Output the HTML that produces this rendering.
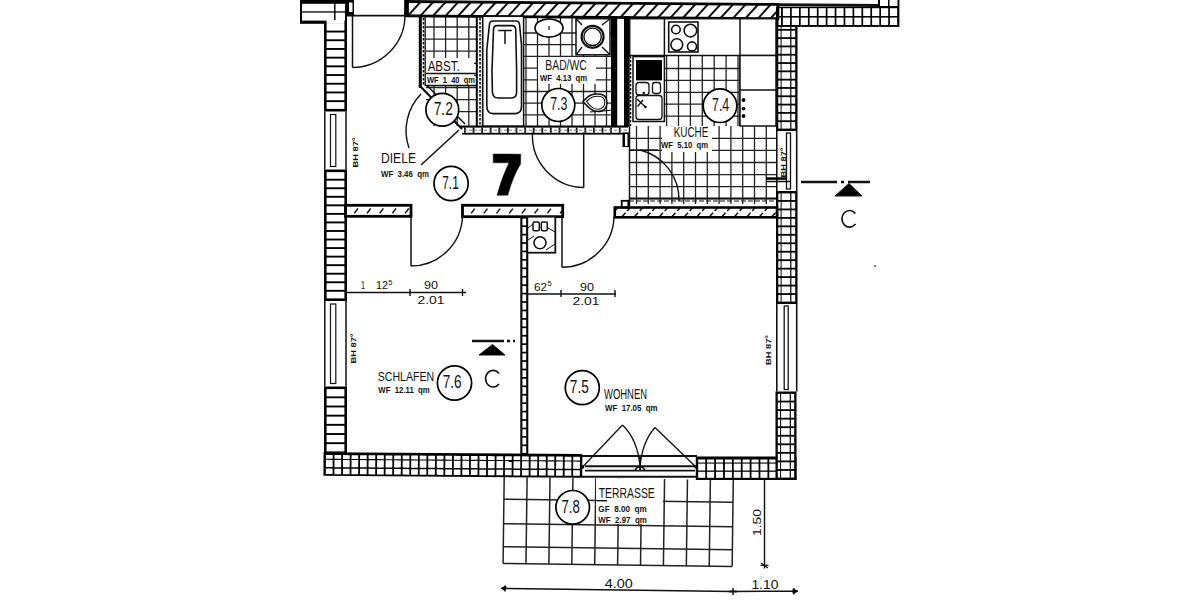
<!DOCTYPE html>
<html><head><meta charset="utf-8"><style>
html,body{margin:0;padding:0;background:#fff;width:1200px;height:600px;overflow:hidden}
svg{display:block}
text{font-family:"Liberation Sans",sans-serif;fill:#111;white-space:pre}
</style></head><body>
<svg width="1200" height="600" viewBox="0 0 1200 600">
<rect width="1200" height="600" fill="#fff"/>
<line x1="434" y1="16" x2="434" y2="126" stroke="#222" stroke-width="1.3"/>
<line x1="445.6" y1="16" x2="445.6" y2="126" stroke="#222" stroke-width="1.3"/>
<line x1="457.2" y1="16" x2="457.2" y2="126" stroke="#222" stroke-width="1.3"/>
<line x1="468.8" y1="16" x2="468.8" y2="126" stroke="#222" stroke-width="1.3"/>
<line x1="426" y1="27" x2="476" y2="27" stroke="#222" stroke-width="1.3"/>
<line x1="426" y1="39.1" x2="476" y2="39.1" stroke="#222" stroke-width="1.3"/>
<line x1="426" y1="51.2" x2="476" y2="51.2" stroke="#222" stroke-width="1.3"/>
<line x1="426" y1="63.3" x2="476" y2="63.3" stroke="#222" stroke-width="1.3"/>
<line x1="426" y1="75.4" x2="476" y2="75.4" stroke="#222" stroke-width="1.3"/>
<line x1="426" y1="87.5" x2="476" y2="87.5" stroke="#222" stroke-width="1.3"/>
<line x1="426" y1="99.6" x2="476" y2="99.6" stroke="#222" stroke-width="1.3"/>
<line x1="426" y1="111.7" x2="476" y2="111.7" stroke="#222" stroke-width="1.3"/>
<line x1="526" y1="16" x2="526" y2="126" stroke="#222" stroke-width="1.3"/>
<line x1="537.5" y1="16" x2="537.5" y2="126" stroke="#222" stroke-width="1.3"/>
<line x1="549" y1="16" x2="549" y2="126" stroke="#222" stroke-width="1.3"/>
<line x1="560.5" y1="16" x2="560.5" y2="126" stroke="#222" stroke-width="1.3"/>
<line x1="572" y1="16" x2="572" y2="126" stroke="#222" stroke-width="1.3"/>
<line x1="583.5" y1="16" x2="583.5" y2="126" stroke="#222" stroke-width="1.3"/>
<line x1="595" y1="16" x2="595" y2="126" stroke="#222" stroke-width="1.3"/>
<line x1="606.5" y1="16" x2="606.5" y2="126" stroke="#222" stroke-width="1.3"/>
<line x1="524" y1="33" x2="611" y2="33" stroke="#222" stroke-width="1.3"/>
<line x1="524" y1="44.7" x2="611" y2="44.7" stroke="#222" stroke-width="1.3"/>
<line x1="524" y1="56.4" x2="611" y2="56.4" stroke="#222" stroke-width="1.3"/>
<line x1="524" y1="68.1" x2="611" y2="68.1" stroke="#222" stroke-width="1.3"/>
<line x1="524" y1="79.8" x2="611" y2="79.8" stroke="#222" stroke-width="1.3"/>
<line x1="524" y1="91.5" x2="611" y2="91.5" stroke="#222" stroke-width="1.3"/>
<line x1="524" y1="103.2" x2="611" y2="103.2" stroke="#222" stroke-width="1.3"/>
<line x1="524" y1="114.9" x2="611" y2="114.9" stroke="#222" stroke-width="1.3"/>
<line x1="666.6" y1="55" x2="666.6" y2="126" stroke="#222" stroke-width="1.3"/>
<line x1="678.5" y1="55" x2="678.5" y2="126" stroke="#222" stroke-width="1.3"/>
<line x1="690.4" y1="55" x2="690.4" y2="126" stroke="#222" stroke-width="1.3"/>
<line x1="702.3" y1="55" x2="702.3" y2="126" stroke="#222" stroke-width="1.3"/>
<line x1="714.2" y1="55" x2="714.2" y2="126" stroke="#222" stroke-width="1.3"/>
<line x1="726.1" y1="55" x2="726.1" y2="126" stroke="#222" stroke-width="1.3"/>
<line x1="738" y1="55" x2="738" y2="126" stroke="#222" stroke-width="1.3"/>
<line x1="664" y1="68.5" x2="740" y2="68.5" stroke="#222" stroke-width="1.3"/>
<line x1="664" y1="80.4" x2="740" y2="80.4" stroke="#222" stroke-width="1.3"/>
<line x1="664" y1="92.3" x2="740" y2="92.3" stroke="#222" stroke-width="1.3"/>
<line x1="664" y1="104.2" x2="740" y2="104.2" stroke="#222" stroke-width="1.3"/>
<line x1="664" y1="116.1" x2="740" y2="116.1" stroke="#222" stroke-width="1.3"/>
<line x1="636.5" y1="126" x2="636.5" y2="204" stroke="#222" stroke-width="1.3"/>
<line x1="648.3" y1="126" x2="648.3" y2="204" stroke="#222" stroke-width="1.3"/>
<line x1="660.1" y1="126" x2="660.1" y2="204" stroke="#222" stroke-width="1.3"/>
<line x1="671.9" y1="126" x2="671.9" y2="204" stroke="#222" stroke-width="1.3"/>
<line x1="683.7" y1="126" x2="683.7" y2="204" stroke="#222" stroke-width="1.3"/>
<line x1="695.5" y1="126" x2="695.5" y2="204" stroke="#222" stroke-width="1.3"/>
<line x1="707.3" y1="126" x2="707.3" y2="204" stroke="#222" stroke-width="1.3"/>
<line x1="719.1" y1="126" x2="719.1" y2="204" stroke="#222" stroke-width="1.3"/>
<line x1="730.9" y1="126" x2="730.9" y2="204" stroke="#222" stroke-width="1.3"/>
<line x1="742.7" y1="126" x2="742.7" y2="204" stroke="#222" stroke-width="1.3"/>
<line x1="754.5" y1="126" x2="754.5" y2="204" stroke="#222" stroke-width="1.3"/>
<line x1="766.3" y1="126" x2="766.3" y2="204" stroke="#222" stroke-width="1.3"/>
<line x1="629" y1="138.3" x2="776" y2="138.3" stroke="#222" stroke-width="1.3"/>
<line x1="629" y1="150.4" x2="776" y2="150.4" stroke="#222" stroke-width="1.3"/>
<line x1="629" y1="162.5" x2="776" y2="162.5" stroke="#222" stroke-width="1.3"/>
<line x1="629" y1="174.6" x2="776" y2="174.6" stroke="#222" stroke-width="1.3"/>
<line x1="629" y1="186.7" x2="776" y2="186.7" stroke="#222" stroke-width="1.3"/>
<line x1="629" y1="198.8" x2="776" y2="198.8" stroke="#222" stroke-width="1.3"/>
<g transform="rotate(0.75 504 477)">
<line x1="504.2" y1="477" x2="504.2" y2="563.5" stroke="#222" stroke-width="1.5"/>
<line x1="527.11" y1="477" x2="527.11" y2="563.5" stroke="#222" stroke-width="1.5"/>
<line x1="550.02" y1="477" x2="550.02" y2="563.5" stroke="#222" stroke-width="1.5"/>
<line x1="572.93" y1="477" x2="572.93" y2="563.5" stroke="#222" stroke-width="1.5"/>
<line x1="595.84" y1="477" x2="595.84" y2="563.5" stroke="#222" stroke-width="1.5"/>
<line x1="618.75" y1="477" x2="618.75" y2="563.5" stroke="#222" stroke-width="1.5"/>
<line x1="641.66" y1="477" x2="641.66" y2="563.5" stroke="#222" stroke-width="1.5"/>
<line x1="664.57" y1="477" x2="664.57" y2="563.5" stroke="#222" stroke-width="1.5"/>
<line x1="687.48" y1="477" x2="687.48" y2="563.5" stroke="#222" stroke-width="1.5"/>
<line x1="710.39" y1="477" x2="710.39" y2="563.5" stroke="#222" stroke-width="1.5"/>
<line x1="733.3" y1="477" x2="733.3" y2="563.5" stroke="#222" stroke-width="1.5"/>
<line x1="504.2" y1="499.2" x2="733.3" y2="499.2" stroke="#222" stroke-width="1.5"/>
<line x1="504.2" y1="523.7" x2="733.3" y2="523.7" stroke="#222" stroke-width="1.5"/>
<line x1="504.2" y1="546.7" x2="733.3" y2="546.7" stroke="#222" stroke-width="1.5"/>
<line x1="504.2" y1="563.5" x2="733.3" y2="563.5" stroke="#222" stroke-width="1.5"/>
</g>
<rect x="300" y="0" width="47" height="23.8" fill="#000"/>
<rect x="302" y="3.8" width="32" height="7.5" fill="#fff"/>
<rect x="302" y="12.6" width="32" height="8" fill="#fff"/>
<rect x="335.5" y="3.8" width="9.5" height="7.5" fill="#fff"/>
<rect x="335.5" y="12.6" width="9.5" height="8" fill="#fff"/>
<rect x="347" y="0" width="7" height="15.6" fill="#000"/>
<rect x="349" y="2.5" width="3.5" height="9.5" fill="#fff"/>
<rect x="324" y="21.2" width="23" height="90.3" fill="#000"/>
<rect x="326.6" y="23.8" width="17.8" height="6.8" fill="#fff"/>
<rect x="326.6" y="32.5" width="17.8" height="6.8" fill="#fff"/>
<rect x="326.6" y="41.2" width="17.8" height="6.8" fill="#fff"/>
<rect x="326.6" y="49.9" width="17.8" height="6.8" fill="#fff"/>
<rect x="326.6" y="58.6" width="17.8" height="6.8" fill="#fff"/>
<rect x="326.6" y="67.3" width="17.8" height="6.8" fill="#fff"/>
<rect x="326.6" y="76" width="17.8" height="6.8" fill="#fff"/>
<rect x="326.6" y="84.7" width="17.8" height="6.8" fill="#fff"/>
<rect x="326.6" y="93.4" width="17.8" height="6.8" fill="#fff"/>
<rect x="326.6" y="102.1" width="17.8" height="6.8" fill="#fff"/>
<rect x="326.6" y="20" width="17.8" height="3.9" fill="#fff"/>
<rect x="324" y="169.5" width="23" height="131.5" fill="#000"/>
<rect x="326.6" y="172.1" width="17.8" height="6.65" fill="#fff"/>
<rect x="326.6" y="180.65" width="17.8" height="6.65" fill="#fff"/>
<rect x="326.6" y="189.19" width="17.8" height="6.65" fill="#fff"/>
<rect x="326.6" y="197.74" width="17.8" height="6.65" fill="#fff"/>
<rect x="326.6" y="206.29" width="17.8" height="6.65" fill="#fff"/>
<rect x="326.6" y="214.83" width="17.8" height="6.65" fill="#fff"/>
<rect x="326.6" y="223.38" width="17.8" height="6.65" fill="#fff"/>
<rect x="326.6" y="231.93" width="17.8" height="6.65" fill="#fff"/>
<rect x="326.6" y="240.47" width="17.8" height="6.65" fill="#fff"/>
<rect x="326.6" y="249.02" width="17.8" height="6.65" fill="#fff"/>
<rect x="326.6" y="257.57" width="17.8" height="6.65" fill="#fff"/>
<rect x="326.6" y="266.11" width="17.8" height="6.65" fill="#fff"/>
<rect x="326.6" y="274.66" width="17.8" height="6.65" fill="#fff"/>
<rect x="326.6" y="283.21" width="17.8" height="6.65" fill="#fff"/>
<rect x="326.6" y="291.75" width="17.8" height="6.65" fill="#fff"/>
<rect x="324" y="386.5" width="23" height="67.5" fill="#000"/>
<rect x="326.6" y="389.1" width="17.8" height="7.27" fill="#fff"/>
<rect x="326.6" y="398.27" width="17.8" height="7.27" fill="#fff"/>
<rect x="326.6" y="407.44" width="17.8" height="7.27" fill="#fff"/>
<rect x="326.6" y="416.61" width="17.8" height="7.27" fill="#fff"/>
<rect x="326.6" y="425.79" width="17.8" height="7.27" fill="#fff"/>
<rect x="326.6" y="434.96" width="17.8" height="7.27" fill="#fff"/>
<rect x="326.6" y="444.13" width="17.8" height="7.27" fill="#fff"/>
<g transform="rotate(0.4 560 465.6)">
<rect x="323.5" y="453.8" width="258.8" height="23.7" fill="#000"/>
<rect x="325.9" y="456.6" width="6.73" height="3.8" fill="#fff"/>
<rect x="325.9" y="461.5" width="6.73" height="7.2" fill="#fff"/>
<rect x="325.9" y="470.2" width="6.73" height="5.5" fill="#fff"/>
<rect x="334.43" y="456.6" width="6.73" height="3.8" fill="#fff"/>
<rect x="334.43" y="461.5" width="6.73" height="7.2" fill="#fff"/>
<rect x="334.43" y="470.2" width="6.73" height="5.5" fill="#fff"/>
<rect x="342.95" y="456.6" width="6.73" height="3.8" fill="#fff"/>
<rect x="342.95" y="461.5" width="6.73" height="7.2" fill="#fff"/>
<rect x="342.95" y="470.2" width="6.73" height="5.5" fill="#fff"/>
<rect x="351.48" y="456.6" width="6.73" height="3.8" fill="#fff"/>
<rect x="351.48" y="461.5" width="6.73" height="7.2" fill="#fff"/>
<rect x="351.48" y="470.2" width="6.73" height="5.5" fill="#fff"/>
<rect x="360.01" y="456.6" width="6.73" height="3.8" fill="#fff"/>
<rect x="360.01" y="461.5" width="6.73" height="7.2" fill="#fff"/>
<rect x="360.01" y="470.2" width="6.73" height="5.5" fill="#fff"/>
<rect x="368.53" y="456.6" width="6.73" height="3.8" fill="#fff"/>
<rect x="368.53" y="461.5" width="6.73" height="7.2" fill="#fff"/>
<rect x="368.53" y="470.2" width="6.73" height="5.5" fill="#fff"/>
<rect x="377.06" y="456.6" width="6.73" height="3.8" fill="#fff"/>
<rect x="377.06" y="461.5" width="6.73" height="7.2" fill="#fff"/>
<rect x="377.06" y="470.2" width="6.73" height="5.5" fill="#fff"/>
<rect x="385.59" y="456.6" width="6.73" height="3.8" fill="#fff"/>
<rect x="385.59" y="461.5" width="6.73" height="7.2" fill="#fff"/>
<rect x="385.59" y="470.2" width="6.73" height="5.5" fill="#fff"/>
<rect x="394.11" y="456.6" width="6.73" height="3.8" fill="#fff"/>
<rect x="394.11" y="461.5" width="6.73" height="7.2" fill="#fff"/>
<rect x="394.11" y="470.2" width="6.73" height="5.5" fill="#fff"/>
<rect x="402.64" y="456.6" width="6.73" height="3.8" fill="#fff"/>
<rect x="402.64" y="461.5" width="6.73" height="7.2" fill="#fff"/>
<rect x="402.64" y="470.2" width="6.73" height="5.5" fill="#fff"/>
<rect x="411.17" y="456.6" width="6.73" height="3.8" fill="#fff"/>
<rect x="411.17" y="461.5" width="6.73" height="7.2" fill="#fff"/>
<rect x="411.17" y="470.2" width="6.73" height="5.5" fill="#fff"/>
<rect x="419.69" y="456.6" width="6.73" height="3.8" fill="#fff"/>
<rect x="419.69" y="461.5" width="6.73" height="7.2" fill="#fff"/>
<rect x="419.69" y="470.2" width="6.73" height="5.5" fill="#fff"/>
<rect x="428.22" y="456.6" width="6.73" height="3.8" fill="#fff"/>
<rect x="428.22" y="461.5" width="6.73" height="7.2" fill="#fff"/>
<rect x="428.22" y="470.2" width="6.73" height="5.5" fill="#fff"/>
<rect x="436.75" y="456.6" width="6.73" height="3.8" fill="#fff"/>
<rect x="436.75" y="461.5" width="6.73" height="7.2" fill="#fff"/>
<rect x="436.75" y="470.2" width="6.73" height="5.5" fill="#fff"/>
<rect x="445.27" y="456.6" width="6.73" height="3.8" fill="#fff"/>
<rect x="445.27" y="461.5" width="6.73" height="7.2" fill="#fff"/>
<rect x="445.27" y="470.2" width="6.73" height="5.5" fill="#fff"/>
<rect x="453.8" y="456.6" width="6.73" height="3.8" fill="#fff"/>
<rect x="453.8" y="461.5" width="6.73" height="7.2" fill="#fff"/>
<rect x="453.8" y="470.2" width="6.73" height="5.5" fill="#fff"/>
<rect x="462.33" y="456.6" width="6.73" height="3.8" fill="#fff"/>
<rect x="462.33" y="461.5" width="6.73" height="7.2" fill="#fff"/>
<rect x="462.33" y="470.2" width="6.73" height="5.5" fill="#fff"/>
<rect x="470.85" y="456.6" width="6.73" height="3.8" fill="#fff"/>
<rect x="470.85" y="461.5" width="6.73" height="7.2" fill="#fff"/>
<rect x="470.85" y="470.2" width="6.73" height="5.5" fill="#fff"/>
<rect x="479.38" y="456.6" width="6.73" height="3.8" fill="#fff"/>
<rect x="479.38" y="461.5" width="6.73" height="7.2" fill="#fff"/>
<rect x="479.38" y="470.2" width="6.73" height="5.5" fill="#fff"/>
<rect x="487.91" y="456.6" width="6.73" height="3.8" fill="#fff"/>
<rect x="487.91" y="461.5" width="6.73" height="7.2" fill="#fff"/>
<rect x="487.91" y="470.2" width="6.73" height="5.5" fill="#fff"/>
<rect x="496.43" y="456.6" width="6.73" height="3.8" fill="#fff"/>
<rect x="496.43" y="461.5" width="6.73" height="7.2" fill="#fff"/>
<rect x="496.43" y="470.2" width="6.73" height="5.5" fill="#fff"/>
<rect x="504.96" y="456.6" width="6.73" height="3.8" fill="#fff"/>
<rect x="504.96" y="461.5" width="6.73" height="7.2" fill="#fff"/>
<rect x="504.96" y="470.2" width="6.73" height="5.5" fill="#fff"/>
<rect x="513.49" y="456.6" width="6.73" height="3.8" fill="#fff"/>
<rect x="513.49" y="461.5" width="6.73" height="7.2" fill="#fff"/>
<rect x="513.49" y="470.2" width="6.73" height="5.5" fill="#fff"/>
<rect x="522.01" y="456.6" width="6.73" height="3.8" fill="#fff"/>
<rect x="522.01" y="461.5" width="6.73" height="7.2" fill="#fff"/>
<rect x="522.01" y="470.2" width="6.73" height="5.5" fill="#fff"/>
<rect x="530.54" y="456.6" width="6.73" height="3.8" fill="#fff"/>
<rect x="530.54" y="461.5" width="6.73" height="7.2" fill="#fff"/>
<rect x="530.54" y="470.2" width="6.73" height="5.5" fill="#fff"/>
<rect x="539.07" y="456.6" width="6.73" height="3.8" fill="#fff"/>
<rect x="539.07" y="461.5" width="6.73" height="7.2" fill="#fff"/>
<rect x="539.07" y="470.2" width="6.73" height="5.5" fill="#fff"/>
<rect x="547.59" y="456.6" width="6.73" height="3.8" fill="#fff"/>
<rect x="547.59" y="461.5" width="6.73" height="7.2" fill="#fff"/>
<rect x="547.59" y="470.2" width="6.73" height="5.5" fill="#fff"/>
<rect x="556.12" y="456.6" width="6.73" height="3.8" fill="#fff"/>
<rect x="556.12" y="461.5" width="6.73" height="7.2" fill="#fff"/>
<rect x="556.12" y="470.2" width="6.73" height="5.5" fill="#fff"/>
<rect x="564.65" y="456.6" width="6.73" height="3.8" fill="#fff"/>
<rect x="564.65" y="461.5" width="6.73" height="7.2" fill="#fff"/>
<rect x="564.65" y="470.2" width="6.73" height="5.5" fill="#fff"/>
<rect x="573.17" y="456.6" width="6.73" height="3.8" fill="#fff"/>
<rect x="573.17" y="461.5" width="6.73" height="7.2" fill="#fff"/>
<rect x="573.17" y="470.2" width="6.73" height="5.5" fill="#fff"/>
</g>
<rect x="695.8" y="456.5" width="100.7" height="23.5" fill="#000"/>
<rect x="698.2" y="459.5" width="7.08" height="3" fill="#fff"/>
<rect x="698.2" y="463.6" width="7.08" height="6.9" fill="#fff"/>
<rect x="698.2" y="471.8" width="7.08" height="6" fill="#fff"/>
<rect x="707.08" y="459.5" width="7.08" height="3" fill="#fff"/>
<rect x="707.08" y="463.6" width="7.08" height="6.9" fill="#fff"/>
<rect x="707.08" y="471.8" width="7.08" height="6" fill="#fff"/>
<rect x="715.96" y="459.5" width="7.08" height="3" fill="#fff"/>
<rect x="715.96" y="463.6" width="7.08" height="6.9" fill="#fff"/>
<rect x="715.96" y="471.8" width="7.08" height="6" fill="#fff"/>
<rect x="724.85" y="459.5" width="7.08" height="3" fill="#fff"/>
<rect x="724.85" y="463.6" width="7.08" height="6.9" fill="#fff"/>
<rect x="724.85" y="471.8" width="7.08" height="6" fill="#fff"/>
<rect x="733.73" y="459.5" width="7.08" height="3" fill="#fff"/>
<rect x="733.73" y="463.6" width="7.08" height="6.9" fill="#fff"/>
<rect x="733.73" y="471.8" width="7.08" height="6" fill="#fff"/>
<rect x="742.61" y="459.5" width="7.08" height="3" fill="#fff"/>
<rect x="742.61" y="463.6" width="7.08" height="6.9" fill="#fff"/>
<rect x="742.61" y="471.8" width="7.08" height="6" fill="#fff"/>
<rect x="751.49" y="459.5" width="7.08" height="3" fill="#fff"/>
<rect x="751.49" y="463.6" width="7.08" height="6.9" fill="#fff"/>
<rect x="751.49" y="471.8" width="7.08" height="6" fill="#fff"/>
<rect x="760.37" y="459.5" width="7.08" height="3" fill="#fff"/>
<rect x="760.37" y="463.6" width="7.08" height="6.9" fill="#fff"/>
<rect x="760.37" y="471.8" width="7.08" height="6" fill="#fff"/>
<rect x="769.25" y="459.5" width="7.08" height="3" fill="#fff"/>
<rect x="769.25" y="463.6" width="7.08" height="6.9" fill="#fff"/>
<rect x="769.25" y="471.8" width="7.08" height="6" fill="#fff"/>
<rect x="778.14" y="459.5" width="7.08" height="3" fill="#fff"/>
<rect x="778.14" y="463.6" width="7.08" height="6.9" fill="#fff"/>
<rect x="778.14" y="471.8" width="7.08" height="6" fill="#fff"/>
<rect x="787.02" y="459.5" width="7.08" height="3" fill="#fff"/>
<rect x="787.02" y="463.6" width="7.08" height="6.9" fill="#fff"/>
<rect x="787.02" y="471.8" width="7.08" height="6" fill="#fff"/>
<rect x="776" y="20" width="21.5" height="111" fill="#000"/>
<rect x="778.3" y="22.4" width="2.3" height="6.51" fill="#fff"/>
<rect x="778.3" y="30.71" width="2.3" height="6.51" fill="#fff"/>
<rect x="778.3" y="39.02" width="2.3" height="6.51" fill="#fff"/>
<rect x="778.3" y="47.32" width="2.3" height="6.51" fill="#fff"/>
<rect x="778.3" y="55.63" width="2.3" height="6.51" fill="#fff"/>
<rect x="778.3" y="63.94" width="2.3" height="6.51" fill="#fff"/>
<rect x="778.3" y="72.25" width="2.3" height="6.51" fill="#fff"/>
<rect x="778.3" y="80.55" width="2.3" height="6.51" fill="#fff"/>
<rect x="778.3" y="88.86" width="2.3" height="6.51" fill="#fff"/>
<rect x="778.3" y="97.17" width="2.3" height="6.51" fill="#fff"/>
<rect x="778.3" y="105.48" width="2.3" height="6.51" fill="#fff"/>
<rect x="778.3" y="113.78" width="2.3" height="6.51" fill="#fff"/>
<rect x="778.3" y="122.09" width="2.3" height="6.51" fill="#fff"/>
<rect x="781.6" y="22.4" width="8.6" height="6.51" fill="#fff"/>
<rect x="781.6" y="30.71" width="8.6" height="6.51" fill="#fff"/>
<rect x="781.6" y="39.02" width="8.6" height="6.51" fill="#fff"/>
<rect x="781.6" y="47.32" width="8.6" height="6.51" fill="#fff"/>
<rect x="781.6" y="55.63" width="8.6" height="6.51" fill="#fff"/>
<rect x="781.6" y="63.94" width="8.6" height="6.51" fill="#fff"/>
<rect x="781.6" y="72.25" width="8.6" height="6.51" fill="#fff"/>
<rect x="781.6" y="80.55" width="8.6" height="6.51" fill="#fff"/>
<rect x="781.6" y="88.86" width="8.6" height="6.51" fill="#fff"/>
<rect x="781.6" y="97.17" width="8.6" height="6.51" fill="#fff"/>
<rect x="781.6" y="105.48" width="8.6" height="6.51" fill="#fff"/>
<rect x="781.6" y="113.78" width="8.6" height="6.51" fill="#fff"/>
<rect x="781.6" y="122.09" width="8.6" height="6.51" fill="#fff"/>
<rect x="791.4" y="22.4" width="3.8" height="6.51" fill="#fff"/>
<rect x="791.4" y="30.71" width="3.8" height="6.51" fill="#fff"/>
<rect x="791.4" y="39.02" width="3.8" height="6.51" fill="#fff"/>
<rect x="791.4" y="47.32" width="3.8" height="6.51" fill="#fff"/>
<rect x="791.4" y="55.63" width="3.8" height="6.51" fill="#fff"/>
<rect x="791.4" y="63.94" width="3.8" height="6.51" fill="#fff"/>
<rect x="791.4" y="72.25" width="3.8" height="6.51" fill="#fff"/>
<rect x="791.4" y="80.55" width="3.8" height="6.51" fill="#fff"/>
<rect x="791.4" y="88.86" width="3.8" height="6.51" fill="#fff"/>
<rect x="791.4" y="97.17" width="3.8" height="6.51" fill="#fff"/>
<rect x="791.4" y="105.48" width="3.8" height="6.51" fill="#fff"/>
<rect x="791.4" y="113.78" width="3.8" height="6.51" fill="#fff"/>
<rect x="791.4" y="122.09" width="3.8" height="6.51" fill="#fff"/>
<rect x="776" y="191" width="21.5" height="113" fill="#000"/>
<rect x="778.3" y="193.4" width="2.3" height="6.66" fill="#fff"/>
<rect x="778.3" y="201.86" width="2.3" height="6.66" fill="#fff"/>
<rect x="778.3" y="210.32" width="2.3" height="6.66" fill="#fff"/>
<rect x="778.3" y="218.78" width="2.3" height="6.66" fill="#fff"/>
<rect x="778.3" y="227.25" width="2.3" height="6.66" fill="#fff"/>
<rect x="778.3" y="235.71" width="2.3" height="6.66" fill="#fff"/>
<rect x="778.3" y="244.17" width="2.3" height="6.66" fill="#fff"/>
<rect x="778.3" y="252.63" width="2.3" height="6.66" fill="#fff"/>
<rect x="778.3" y="261.09" width="2.3" height="6.66" fill="#fff"/>
<rect x="778.3" y="269.55" width="2.3" height="6.66" fill="#fff"/>
<rect x="778.3" y="278.02" width="2.3" height="6.66" fill="#fff"/>
<rect x="778.3" y="286.48" width="2.3" height="6.66" fill="#fff"/>
<rect x="778.3" y="294.94" width="2.3" height="6.66" fill="#fff"/>
<rect x="781.6" y="193.4" width="8.6" height="6.66" fill="#fff"/>
<rect x="781.6" y="201.86" width="8.6" height="6.66" fill="#fff"/>
<rect x="781.6" y="210.32" width="8.6" height="6.66" fill="#fff"/>
<rect x="781.6" y="218.78" width="8.6" height="6.66" fill="#fff"/>
<rect x="781.6" y="227.25" width="8.6" height="6.66" fill="#fff"/>
<rect x="781.6" y="235.71" width="8.6" height="6.66" fill="#fff"/>
<rect x="781.6" y="244.17" width="8.6" height="6.66" fill="#fff"/>
<rect x="781.6" y="252.63" width="8.6" height="6.66" fill="#fff"/>
<rect x="781.6" y="261.09" width="8.6" height="6.66" fill="#fff"/>
<rect x="781.6" y="269.55" width="8.6" height="6.66" fill="#fff"/>
<rect x="781.6" y="278.02" width="8.6" height="6.66" fill="#fff"/>
<rect x="781.6" y="286.48" width="8.6" height="6.66" fill="#fff"/>
<rect x="781.6" y="294.94" width="8.6" height="6.66" fill="#fff"/>
<rect x="791.4" y="193.4" width="3.8" height="6.66" fill="#fff"/>
<rect x="791.4" y="201.86" width="3.8" height="6.66" fill="#fff"/>
<rect x="791.4" y="210.32" width="3.8" height="6.66" fill="#fff"/>
<rect x="791.4" y="218.78" width="3.8" height="6.66" fill="#fff"/>
<rect x="791.4" y="227.25" width="3.8" height="6.66" fill="#fff"/>
<rect x="791.4" y="235.71" width="3.8" height="6.66" fill="#fff"/>
<rect x="791.4" y="244.17" width="3.8" height="6.66" fill="#fff"/>
<rect x="791.4" y="252.63" width="3.8" height="6.66" fill="#fff"/>
<rect x="791.4" y="261.09" width="3.8" height="6.66" fill="#fff"/>
<rect x="791.4" y="269.55" width="3.8" height="6.66" fill="#fff"/>
<rect x="791.4" y="278.02" width="3.8" height="6.66" fill="#fff"/>
<rect x="791.4" y="286.48" width="3.8" height="6.66" fill="#fff"/>
<rect x="791.4" y="294.94" width="3.8" height="6.66" fill="#fff"/>
<rect x="775.5" y="391.5" width="21" height="88.5" fill="#000"/>
<rect x="777.8" y="393.9" width="2.3" height="6.75" fill="#fff"/>
<rect x="777.8" y="402.45" width="2.3" height="6.75" fill="#fff"/>
<rect x="777.8" y="411" width="2.3" height="6.75" fill="#fff"/>
<rect x="777.8" y="419.55" width="2.3" height="6.75" fill="#fff"/>
<rect x="777.8" y="428.1" width="2.3" height="6.75" fill="#fff"/>
<rect x="777.8" y="436.65" width="2.3" height="6.75" fill="#fff"/>
<rect x="777.8" y="445.2" width="2.3" height="6.75" fill="#fff"/>
<rect x="777.8" y="453.75" width="2.3" height="6.75" fill="#fff"/>
<rect x="777.8" y="462.3" width="2.3" height="6.75" fill="#fff"/>
<rect x="777.8" y="470.85" width="2.3" height="6.75" fill="#fff"/>
<rect x="781.1" y="393.9" width="8.6" height="6.75" fill="#fff"/>
<rect x="781.1" y="402.45" width="8.6" height="6.75" fill="#fff"/>
<rect x="781.1" y="411" width="8.6" height="6.75" fill="#fff"/>
<rect x="781.1" y="419.55" width="8.6" height="6.75" fill="#fff"/>
<rect x="781.1" y="428.1" width="8.6" height="6.75" fill="#fff"/>
<rect x="781.1" y="436.65" width="8.6" height="6.75" fill="#fff"/>
<rect x="781.1" y="445.2" width="8.6" height="6.75" fill="#fff"/>
<rect x="781.1" y="453.75" width="8.6" height="6.75" fill="#fff"/>
<rect x="781.1" y="462.3" width="8.6" height="6.75" fill="#fff"/>
<rect x="781.1" y="470.85" width="8.6" height="6.75" fill="#fff"/>
<rect x="790.9" y="393.9" width="3.3" height="6.75" fill="#fff"/>
<rect x="790.9" y="402.45" width="3.3" height="6.75" fill="#fff"/>
<rect x="790.9" y="411" width="3.3" height="6.75" fill="#fff"/>
<rect x="790.9" y="419.55" width="3.3" height="6.75" fill="#fff"/>
<rect x="790.9" y="428.1" width="3.3" height="6.75" fill="#fff"/>
<rect x="790.9" y="436.65" width="3.3" height="6.75" fill="#fff"/>
<rect x="790.9" y="445.2" width="3.3" height="6.75" fill="#fff"/>
<rect x="790.9" y="453.75" width="3.3" height="6.75" fill="#fff"/>
<rect x="790.9" y="462.3" width="3.3" height="6.75" fill="#fff"/>
<rect x="790.9" y="470.85" width="3.3" height="6.75" fill="#fff"/>
<rect x="776" y="6.9" width="123.4" height="20" fill="#000"/>
<rect x="778.5" y="8.2" width="2.5" height="7.8" fill="#fff"/>
<rect x="778.5" y="17.6" width="2.5" height="7.4" fill="#fff"/>
<rect x="782.85" y="8.2" width="7.22" height="7.8" fill="#fff"/>
<rect x="782.85" y="17.6" width="7.22" height="7.4" fill="#fff"/>
<rect x="791.77" y="8.2" width="7.22" height="7.8" fill="#fff"/>
<rect x="791.77" y="17.6" width="7.22" height="7.4" fill="#fff"/>
<rect x="800.7" y="8.2" width="7.22" height="7.8" fill="#fff"/>
<rect x="800.7" y="17.6" width="7.22" height="7.4" fill="#fff"/>
<rect x="809.62" y="8.2" width="7.22" height="7.8" fill="#fff"/>
<rect x="809.62" y="17.6" width="7.22" height="7.4" fill="#fff"/>
<rect x="818.54" y="8.2" width="7.22" height="7.8" fill="#fff"/>
<rect x="818.54" y="17.6" width="7.22" height="7.4" fill="#fff"/>
<rect x="827.47" y="8.2" width="7.22" height="7.8" fill="#fff"/>
<rect x="827.47" y="17.6" width="7.22" height="7.4" fill="#fff"/>
<rect x="836.39" y="8.2" width="7.22" height="7.8" fill="#fff"/>
<rect x="836.39" y="17.6" width="7.22" height="7.4" fill="#fff"/>
<rect x="845.31" y="8.2" width="7.22" height="7.8" fill="#fff"/>
<rect x="845.31" y="17.6" width="7.22" height="7.4" fill="#fff"/>
<rect x="854.23" y="8.2" width="7.22" height="7.8" fill="#fff"/>
<rect x="854.23" y="17.6" width="7.22" height="7.4" fill="#fff"/>
<rect x="863.16" y="8.2" width="7.22" height="7.8" fill="#fff"/>
<rect x="863.16" y="17.6" width="7.22" height="7.4" fill="#fff"/>
<rect x="872.08" y="8.2" width="7.22" height="7.8" fill="#fff"/>
<rect x="872.08" y="17.6" width="7.22" height="7.4" fill="#fff"/>
<rect x="881" y="8.2" width="7.22" height="7.8" fill="#fff"/>
<rect x="881" y="17.6" width="7.22" height="7.4" fill="#fff"/>
<rect x="889.93" y="8.2" width="7.22" height="7.8" fill="#fff"/>
<rect x="889.93" y="17.6" width="7.22" height="7.4" fill="#fff"/>
<rect x="878" y="0" width="21.4" height="7" fill="#000"/>
<rect x="880" y="0" width="8" height="6" fill="#fff"/>
<rect x="889.5" y="0" width="8" height="6" fill="#fff"/>
<line x1="324.8" y1="111.5" x2="324.8" y2="169.5" stroke="#111" stroke-width="1.5"/>
<line x1="346" y1="111.5" x2="346" y2="169.5" stroke="#111" stroke-width="1.5"/>
<rect x="330.5" y="114.5" width="5.3" height="52" fill="none" stroke="#111" stroke-width="1.2"/>
<line x1="324.8" y1="301" x2="324.8" y2="386.5" stroke="#111" stroke-width="1.5"/>
<line x1="346" y1="301" x2="346" y2="386.5" stroke="#111" stroke-width="1.5"/>
<rect x="330.5" y="304" width="5.3" height="79.5" fill="none" stroke="#111" stroke-width="1.2"/>
<line x1="776.8" y1="131" x2="776.8" y2="191" stroke="#111" stroke-width="1.6"/>
<line x1="796.7" y1="131" x2="796.7" y2="191" stroke="#111" stroke-width="1.6"/>
<rect x="786.5" y="133" width="4" height="56" fill="none" stroke="#111" stroke-width="1.3"/>
<line x1="776.8" y1="304" x2="776.8" y2="391.5" stroke="#111" stroke-width="1.6"/>
<line x1="796.7" y1="304" x2="796.7" y2="391.5" stroke="#111" stroke-width="1.6"/>
<rect x="784.2" y="306" width="4" height="83.5" fill="none" stroke="#111" stroke-width="1.3"/>
<g transform="rotate(0.45 405 0)">
<clipPath id="c401"><rect x="405.8" y="1.5" width="372.2" height="14.3"/></clipPath><g clip-path="url(#c401)">
<line x1="395.5" y1="15.8" x2="408.37" y2="1.5" stroke="#111" stroke-width="2"/>
<line x1="408" y1="15.8" x2="420.87" y2="1.5" stroke="#111" stroke-width="2"/>
<line x1="420.5" y1="15.8" x2="433.37" y2="1.5" stroke="#111" stroke-width="2"/>
<line x1="433" y1="15.8" x2="445.87" y2="1.5" stroke="#111" stroke-width="2"/>
<line x1="445.5" y1="15.8" x2="458.37" y2="1.5" stroke="#111" stroke-width="2"/>
<line x1="458" y1="15.8" x2="470.87" y2="1.5" stroke="#111" stroke-width="2"/>
<line x1="470.5" y1="15.8" x2="483.37" y2="1.5" stroke="#111" stroke-width="2"/>
<line x1="483" y1="15.8" x2="495.87" y2="1.5" stroke="#111" stroke-width="2"/>
<line x1="495.5" y1="15.8" x2="508.37" y2="1.5" stroke="#111" stroke-width="2"/>
<line x1="508" y1="15.8" x2="520.87" y2="1.5" stroke="#111" stroke-width="2"/>
<line x1="520.5" y1="15.8" x2="533.37" y2="1.5" stroke="#111" stroke-width="2"/>
<line x1="533" y1="15.8" x2="545.87" y2="1.5" stroke="#111" stroke-width="2"/>
<line x1="545.5" y1="15.8" x2="558.37" y2="1.5" stroke="#111" stroke-width="2"/>
<line x1="558" y1="15.8" x2="570.87" y2="1.5" stroke="#111" stroke-width="2"/>
<line x1="570.5" y1="15.8" x2="583.37" y2="1.5" stroke="#111" stroke-width="2"/>
<line x1="583" y1="15.8" x2="595.87" y2="1.5" stroke="#111" stroke-width="2"/>
<line x1="595.5" y1="15.8" x2="608.37" y2="1.5" stroke="#111" stroke-width="2"/>
<line x1="608" y1="15.8" x2="620.87" y2="1.5" stroke="#111" stroke-width="2"/>
<line x1="620.5" y1="15.8" x2="633.37" y2="1.5" stroke="#111" stroke-width="2"/>
<line x1="633" y1="15.8" x2="645.87" y2="1.5" stroke="#111" stroke-width="2"/>
<line x1="645.5" y1="15.8" x2="658.37" y2="1.5" stroke="#111" stroke-width="2"/>
<line x1="658" y1="15.8" x2="670.87" y2="1.5" stroke="#111" stroke-width="2"/>
<line x1="670.5" y1="15.8" x2="683.37" y2="1.5" stroke="#111" stroke-width="2"/>
<line x1="683" y1="15.8" x2="695.87" y2="1.5" stroke="#111" stroke-width="2"/>
<line x1="695.5" y1="15.8" x2="708.37" y2="1.5" stroke="#111" stroke-width="2"/>
<line x1="708" y1="15.8" x2="720.87" y2="1.5" stroke="#111" stroke-width="2"/>
<line x1="720.5" y1="15.8" x2="733.37" y2="1.5" stroke="#111" stroke-width="2"/>
<line x1="733" y1="15.8" x2="745.87" y2="1.5" stroke="#111" stroke-width="2"/>
<line x1="745.5" y1="15.8" x2="758.37" y2="1.5" stroke="#111" stroke-width="2"/>
<line x1="758" y1="15.8" x2="770.87" y2="1.5" stroke="#111" stroke-width="2"/>
<line x1="770.5" y1="15.8" x2="783.37" y2="1.5" stroke="#111" stroke-width="2"/>
<line x1="783" y1="15.8" x2="795.87" y2="1.5" stroke="#111" stroke-width="2"/>
</g>
<rect x="405.8" y="1.5" width="372.2" height="14.3" fill="none" stroke="#000" stroke-width="2.8"/>
<rect x="404.5" y="0" width="4.5" height="17" fill="#000"/>
</g>
<line x1="776" y1="4.8" x2="878" y2="5.6" stroke="#111" stroke-width="3"/>
<line x1="347" y1="15.6" x2="420" y2="15.6" stroke="#111" stroke-width="1.6"/>
<line x1="352.5" y1="15.6" x2="352.5" y2="67.5" stroke="#111" stroke-width="1.5"/>
<path d="M352.5 67.5 A52.5 52.5 0 0 0 405 15.6" fill="none" stroke="#111" stroke-width="1.4"/>
<rect x="418.8" y="16" width="3" height="72" fill="#000"/>
<line x1="425.2" y1="16" x2="425.2" y2="86" stroke="#111" stroke-width="1.3"/>
<line x1="423.5" y1="18" x2="423.5" y2="85" stroke="#111" stroke-width="1.6" stroke-dasharray="2.5 1.5"/>
<rect x="475.8" y="16" width="2" height="110" fill="#000"/>
<line x1="482.5" y1="16" x2="482.5" y2="126" stroke="#111" stroke-width="1.3"/>
<line x1="480" y1="18" x2="480" y2="125" stroke="#111" stroke-width="1.6" stroke-dasharray="2.5 1.5"/>
<path d="M419 85 L462 129" fill="none" stroke="#111" stroke-width="2.2"/>
<path d="M425.5 84 L465 124" fill="none" stroke="#111" stroke-width="1.5"/>
<rect x="460" y="125.5" width="168" height="2.1" fill="#000"/>
<rect x="462" y="132.8" width="166" height="1.8" fill="#000"/>
<line x1="464" y1="130.2" x2="627" y2="130.2" stroke="#111" stroke-width="5.2" stroke-dasharray="1.8 6.8"/>
<line x1="464" y1="130.2" x2="627" y2="130.2" stroke="#777" stroke-width="1" stroke-dasharray="3 2"/>
<rect x="426" y="58" width="48" height="28" fill="#fff"/>
<line x1="426" y1="73.6" x2="476" y2="73.6" stroke="#111" stroke-width="1.5"/>
<line x1="426" y1="85.5" x2="476" y2="85.5" stroke="#111" stroke-width="1.5"/>
<text x="427.7" y="71.3" font-size="14.8" textLength="32" lengthAdjust="spacingAndGlyphs">ABST.</text>
<text x="427" y="83" font-size="9.3" font-weight="bold" textLength="48" lengthAdjust="spacingAndGlyphs">WF  1  40  qm</text>
<circle cx="442.3" cy="109.7" r="16.4" fill="#fff" stroke="#000" stroke-width="1.7"/>
<text x="443.3" y="114.9" font-size="18" text-anchor="middle" textLength="19.3" lengthAdjust="spacingAndGlyphs">7.2</text>
<rect x="611" y="16" width="6.2" height="110" fill="#000"/>
<rect x="624" y="16" width="3.4" height="111" fill="#000"/>
<line x1="630.5" y1="16" x2="630.5" y2="126" stroke="#111" stroke-width="1.5" stroke-dasharray="2.5 1.5"/>
<rect x="482.8" y="16.3" width="40.8" height="109.7" fill="#fff" stroke="#111" stroke-width="1.5"/>
<path d="M493 21 Q489.6 21 489.4 25 L486.8 50 L486.8 106 Q487 113.6 493 113.6 L515.5 113.6 Q521.5 113.6 521.5 106 L521.5 45 L519.6 25 Q519.4 21 516 21 Z" fill="none" stroke="#111" stroke-width="1.6"/>
<path d="M497 25.6 Q493.6 25.6 493.5 29.5 L492 70 L492.4 92 Q492.8 98 498 98 L511.5 98 Q516.6 98 516.6 92 L516.6 70 L515.7 29.5 Q515.6 25.6 512 25.6 Z" fill="none" stroke="#111" stroke-width="1.6"/>
<path d="M505 30.4 L505 44 M498.3 30.4 L511.8 30.4" fill="none" stroke="#111" stroke-width="1.5"/>
<ellipse cx="549" cy="28" rx="14" ry="9.2" fill="#fff" stroke="#111" stroke-width="1.7"/>
<line x1="549" y1="26" x2="549" y2="30" stroke="#111" stroke-width="1.2"/>
<rect x="576" y="18.7" width="34" height="36.1" fill="#fff" stroke="#111" stroke-width="1.5"/>
<circle cx="592.6" cy="36.8" r="11" fill="#fff" stroke="#111" stroke-width="2.2"/><circle cx="592.6" cy="36.8" r="8.7" fill="none" stroke="#111" stroke-width="1.4"/>
<path d="M576 18.7 L582 25 M610 18.7 L602 25 M576 54.8 L582 47 M610 54.8 L602 47" fill="none" stroke="#111" stroke-width="1.3"/>
<rect x="538" y="57" width="58" height="27" fill="#fff"/>
<text x="545.3" y="70.2" font-size="13.8" textLength="41.5" lengthAdjust="spacingAndGlyphs">BAD/WC</text>
<text x="540" y="81" font-size="9.3" font-weight="bold" textLength="47" lengthAdjust="spacingAndGlyphs">WF  4.13  qm</text>
<path d="M583 101.5 C589 95 592 94 598 94 C604 94 607 97.5 607 102.5 C607 107.5 604 111.5 598 111.5 C592 111.5 589 108 583 101.5 Z" fill="#fff" stroke="#111" stroke-width="1.6"/>
<path d="M586.5 101.5 C591 97 593 96.2 598 96.2 C602.5 96.2 604.8 99 604.8 102.5 C604.8 106 602.5 109.3 598 109.3 C593 109.3 591 106.5 586.5 101.5 Z" fill="none" stroke="#111" stroke-width="1.1"/>
<line x1="590" y1="112" x2="614" y2="110" stroke="#111" stroke-width="1.2"/>
<circle cx="558.3" cy="105" r="16.5" fill="#fff" stroke="#000" stroke-width="1.7"/>
<text x="558.8" y="110.2" font-size="18" text-anchor="middle" textLength="17.2" lengthAdjust="spacingAndGlyphs">7.3</text>
<rect x="624.3" y="16.3" width="5.4" height="110.7" fill="#000"/>
<rect x="629.7" y="18.7" width="146.3" height="36.8" fill="#fff" stroke="#111" stroke-width="1.5"/>
<line x1="664.4" y1="18.7" x2="664.4" y2="55.5" stroke="#111" stroke-width="1.5"/>
<line x1="740" y1="18.7" x2="740" y2="126" stroke="#111" stroke-width="1.5"/>
<rect x="740" y="55.5" width="36" height="70.5" fill="#fff" stroke="#111" stroke-width="1.5"/>
<line x1="740" y1="90" x2="776" y2="90" stroke="#111" stroke-width="1.5"/>
<rect x="668.7" y="22" width="29.3" height="30" fill="#fff" stroke="#111" stroke-width="1.6"/>
<circle cx="675.9" cy="29.5" r="4.3" fill="none" stroke="#111" stroke-width="1.6"/>
<circle cx="690.4" cy="30.6" r="6.3" fill="none" stroke="#111" stroke-width="1.6"/>
<circle cx="676.8" cy="44.7" r="5.9" fill="none" stroke="#111" stroke-width="1.6"/>
<circle cx="692" cy="46.4" r="4.5" fill="none" stroke="#111" stroke-width="1.6"/>
<rect x="633" y="56.6" width="31.4" height="64.9" fill="#fff" stroke="#111" stroke-width="1.5"/>
<rect x="636" y="60" width="26" height="20.4" fill="#000"/>
<rect x="636" y="82.5" width="13" height="12.5" rx="3" fill="none" stroke="#111" stroke-width="1.3"/>
<rect x="652.5" y="82.5" width="8" height="11" rx="2.5" fill="none" stroke="#111" stroke-width="1.3"/>
<rect x="636" y="95.5" width="26" height="24" rx="3" fill="none" stroke="#111" stroke-width="1.3"/>
<path d="M637 99 L645.5 107 M637.5 106.5 L643 100" fill="none" stroke="#111" stroke-width="1.3"/>
<circle cx="643.7" cy="93" r="1.2" fill="#000"/><circle cx="645.5" cy="107" r="1.2" fill="#000"/>
<circle cx="720" cy="105.7" r="16.8" fill="#fff" stroke="#000" stroke-width="1.7"/>
<text x="720.6" y="110.9" font-size="18" text-anchor="middle" textLength="17.2" lengthAdjust="spacingAndGlyphs">7.4</text>
<circle cx="743.5" cy="100" r="1.9" fill="#000"/>
<circle cx="743.5" cy="108.6" r="1.9" fill="#000"/>
<circle cx="743.5" cy="116" r="1.9" fill="#000"/>
<rect x="662" y="126.5" width="50" height="25.5" fill="#fff"/>
<text x="673.7" y="136.5" font-size="14.8" textLength="34.6" lengthAdjust="spacingAndGlyphs">KUCHE</text>
<text x="661" y="148.3" font-size="9.5" font-weight="bold" textLength="47" lengthAdjust="spacingAndGlyphs">WF  5.10  qm</text>
<rect x="622.5" y="132.5" width="6.5" height="14.5" fill="#000"/>
<rect x="625" y="134" width="2.5" height="12" fill="#fff"/>
<line x1="629" y1="150" x2="658" y2="150" stroke="#111" stroke-width="1.3"/>
<path d="M640 150 A51 51 0 0 1 679 201" fill="none" stroke="#111" stroke-width="1.4"/>
<line x1="629" y1="198.4" x2="776" y2="198.4" stroke="#111" stroke-width="1.6"/>
<line x1="629" y1="201" x2="776" y2="201" stroke="#111" stroke-width="1.2" stroke-dasharray="5 2"/>
<line x1="629.5" y1="127" x2="629.5" y2="206" stroke="#111" stroke-width="1.5"/>
<rect x="621.7" y="200.8" width="6.6" height="6.7" fill="none" stroke="#000" stroke-width="1.8"/>
<clipPath id="c515"><rect x="614.8" y="207.5" width="162.2" height="9.8"/></clipPath><g clip-path="url(#c515)">
<line x1="609" y1="217.3" x2="617.82" y2="207.5" stroke="#111" stroke-width="1.5" stroke-dasharray="6 2.5"/>
<line x1="621.5" y1="217.3" x2="630.32" y2="207.5" stroke="#111" stroke-width="1.5" stroke-dasharray="6 2.5"/>
<line x1="634" y1="217.3" x2="642.82" y2="207.5" stroke="#111" stroke-width="1.5" stroke-dasharray="6 2.5"/>
<line x1="646.5" y1="217.3" x2="655.32" y2="207.5" stroke="#111" stroke-width="1.5" stroke-dasharray="6 2.5"/>
<line x1="659" y1="217.3" x2="667.82" y2="207.5" stroke="#111" stroke-width="1.5" stroke-dasharray="6 2.5"/>
<line x1="671.5" y1="217.3" x2="680.32" y2="207.5" stroke="#111" stroke-width="1.5" stroke-dasharray="6 2.5"/>
<line x1="684" y1="217.3" x2="692.82" y2="207.5" stroke="#111" stroke-width="1.5" stroke-dasharray="6 2.5"/>
<line x1="696.5" y1="217.3" x2="705.32" y2="207.5" stroke="#111" stroke-width="1.5" stroke-dasharray="6 2.5"/>
<line x1="709" y1="217.3" x2="717.82" y2="207.5" stroke="#111" stroke-width="1.5" stroke-dasharray="6 2.5"/>
<line x1="721.5" y1="217.3" x2="730.32" y2="207.5" stroke="#111" stroke-width="1.5" stroke-dasharray="6 2.5"/>
<line x1="734" y1="217.3" x2="742.82" y2="207.5" stroke="#111" stroke-width="1.5" stroke-dasharray="6 2.5"/>
<line x1="746.5" y1="217.3" x2="755.32" y2="207.5" stroke="#111" stroke-width="1.5" stroke-dasharray="6 2.5"/>
<line x1="759" y1="217.3" x2="767.82" y2="207.5" stroke="#111" stroke-width="1.5" stroke-dasharray="6 2.5"/>
<line x1="771.5" y1="217.3" x2="780.32" y2="207.5" stroke="#111" stroke-width="1.5" stroke-dasharray="6 2.5"/>
<line x1="784" y1="217.3" x2="792.82" y2="207.5" stroke="#111" stroke-width="1.5" stroke-dasharray="6 2.5"/>
</g>
<rect x="614.8" y="207.5" width="162.2" height="9.8" fill="none" stroke="#000" stroke-width="2.6"/>
<line x1="583.7" y1="132.5" x2="583.7" y2="187.5" stroke="#111" stroke-width="1.5"/>
<path d="M583.7 187.5 A52 52 0 0 1 532.5 132.5" fill="none" stroke="#111" stroke-width="1.4"/>
<text x="381" y="162.5" font-size="14.2" textLength="35" lengthAdjust="spacingAndGlyphs">DIELE</text>
<text x="381" y="176.5" font-size="9.3" font-weight="bold" textLength="48" lengthAdjust="spacingAndGlyphs">WF  3.46  qm</text>
<circle cx="451.1" cy="183.5" r="17.1" fill="#fff" stroke="#000" stroke-width="1.7"/>
<text x="450.5" y="188.7" font-size="18" text-anchor="middle" textLength="16.5" lengthAdjust="spacingAndGlyphs">7.1</text>
<path d="M493.2 154 L520.8 154.2 L520.6 164 Q513 176 507.8 195.3 L497 195.3 Q501.5 178 509 162.8 L493.2 162.8 Z" fill="#000" stroke="#111" stroke-width="0.5"/>
<path d="M421 94 A52.5 52.5 0 0 0 409 148" fill="none" stroke="#111" stroke-width="1.4"/>
<line x1="459" y1="130" x2="421" y2="165" stroke="#111" stroke-width="1.5"/>
<clipPath id="c542"><rect x="345.5" y="205.3" width="65.5" height="11"/></clipPath><g clip-path="url(#c542)">
<line x1="341.65" y1="213.2" x2="345.25" y2="208.4" stroke="#111" stroke-width="1.5"/>
<line x1="354.35" y1="213.2" x2="357.95" y2="208.4" stroke="#111" stroke-width="1.5"/>
<line x1="367.05" y1="213.2" x2="370.65" y2="208.4" stroke="#111" stroke-width="1.5"/>
<line x1="379.75" y1="213.2" x2="383.35" y2="208.4" stroke="#111" stroke-width="1.5"/>
<line x1="392.45" y1="213.2" x2="396.05" y2="208.4" stroke="#111" stroke-width="1.5"/>
<line x1="405.15" y1="213.2" x2="408.75" y2="208.4" stroke="#111" stroke-width="1.5"/>
<line x1="417.85" y1="213.2" x2="421.45" y2="208.4" stroke="#111" stroke-width="1.5"/>
</g>
<rect x="345.5" y="205.3" width="65.5" height="11" fill="none" stroke="#000" stroke-width="2.8"/>
<clipPath id="c552"><rect x="462.5" y="205.3" width="100.2" height="11.4"/></clipPath><g clip-path="url(#c552)">
<line x1="458.43" y1="213.4" x2="462.03" y2="208.6" stroke="#111" stroke-width="1.5"/>
<line x1="471.13" y1="213.4" x2="474.73" y2="208.6" stroke="#111" stroke-width="1.5"/>
<line x1="483.83" y1="213.4" x2="487.43" y2="208.6" stroke="#111" stroke-width="1.5"/>
<line x1="496.53" y1="213.4" x2="500.13" y2="208.6" stroke="#111" stroke-width="1.5"/>
<line x1="509.23" y1="213.4" x2="512.83" y2="208.6" stroke="#111" stroke-width="1.5"/>
<line x1="521.93" y1="213.4" x2="525.53" y2="208.6" stroke="#111" stroke-width="1.5"/>
<line x1="534.63" y1="213.4" x2="538.23" y2="208.6" stroke="#111" stroke-width="1.5"/>
<line x1="547.33" y1="213.4" x2="550.93" y2="208.6" stroke="#111" stroke-width="1.5"/>
<line x1="560.03" y1="213.4" x2="563.63" y2="208.6" stroke="#111" stroke-width="1.5"/>
<line x1="572.73" y1="213.4" x2="576.33" y2="208.6" stroke="#111" stroke-width="1.5"/>
</g>
<rect x="462.5" y="205.3" width="100.2" height="11.4" fill="none" stroke="#000" stroke-width="2.8"/>
<line x1="411" y1="216" x2="411" y2="266" stroke="#111" stroke-width="1.5"/>
<path d="M411 266 A51.5 51.5 0 0 0 462.5 216" fill="none" stroke="#111" stroke-width="1.4"/>
<line x1="562" y1="216.7" x2="562" y2="267.3" stroke="#111" stroke-width="1.5"/>
<path d="M562 267.3 A52 52 0 0 0 614 216.7" fill="none" stroke="#111" stroke-width="1.4"/>
<rect x="520.3" y="216.5" width="8" height="238.5" fill="#000"/>
<rect x="522.4" y="218.6" width="3.8" height="6.73" fill="#fff"/>
<rect x="522.4" y="227.03" width="3.8" height="6.73" fill="#fff"/>
<rect x="522.4" y="235.46" width="3.8" height="6.73" fill="#fff"/>
<rect x="522.4" y="243.89" width="3.8" height="6.73" fill="#fff"/>
<rect x="522.4" y="252.31" width="3.8" height="6.73" fill="#fff"/>
<rect x="522.4" y="260.74" width="3.8" height="6.73" fill="#fff"/>
<rect x="522.4" y="269.17" width="3.8" height="6.73" fill="#fff"/>
<rect x="522.4" y="277.6" width="3.8" height="6.73" fill="#fff"/>
<rect x="522.4" y="286.03" width="3.8" height="6.73" fill="#fff"/>
<rect x="522.4" y="294.46" width="3.8" height="6.73" fill="#fff"/>
<rect x="522.4" y="302.89" width="3.8" height="6.73" fill="#fff"/>
<rect x="522.4" y="311.31" width="3.8" height="6.73" fill="#fff"/>
<rect x="522.4" y="319.74" width="3.8" height="6.73" fill="#fff"/>
<rect x="522.4" y="328.17" width="3.8" height="6.73" fill="#fff"/>
<rect x="522.4" y="336.6" width="3.8" height="6.73" fill="#fff"/>
<rect x="522.4" y="345.03" width="3.8" height="6.73" fill="#fff"/>
<rect x="522.4" y="353.46" width="3.8" height="6.73" fill="#fff"/>
<rect x="522.4" y="361.89" width="3.8" height="6.73" fill="#fff"/>
<rect x="522.4" y="370.31" width="3.8" height="6.73" fill="#fff"/>
<rect x="522.4" y="378.74" width="3.8" height="6.73" fill="#fff"/>
<rect x="522.4" y="387.17" width="3.8" height="6.73" fill="#fff"/>
<rect x="522.4" y="395.6" width="3.8" height="6.73" fill="#fff"/>
<rect x="522.4" y="404.03" width="3.8" height="6.73" fill="#fff"/>
<rect x="522.4" y="412.46" width="3.8" height="6.73" fill="#fff"/>
<rect x="522.4" y="420.89" width="3.8" height="6.73" fill="#fff"/>
<rect x="522.4" y="429.31" width="3.8" height="6.73" fill="#fff"/>
<rect x="522.4" y="437.74" width="3.8" height="6.73" fill="#fff"/>
<rect x="522.4" y="446.17" width="3.8" height="6.73" fill="#fff"/>
<rect x="527.3" y="216.7" width="28" height="36" fill="#fff" stroke="#111" stroke-width="1.8"/>
<rect x="533" y="222" width="6.3" height="8.7" rx="1.5" fill="none" stroke="#111" stroke-width="1.5"/>
<rect x="541.3" y="222" width="6" height="8.7" rx="1.5" fill="none" stroke="#111" stroke-width="1.5"/>
<circle cx="540" cy="242.7" r="6" fill="none" stroke="#111" stroke-width="1.6"/>
<path d="M528 228 L533 224 M555 232 L548 228 M528 240 L534 236 M555 244 L546 250" fill="none" stroke="#111" stroke-width="1"/>
<line x1="347" y1="292.5" x2="466" y2="292.5" stroke="#111" stroke-width="1.4"/>
<line x1="410" y1="289" x2="410" y2="296" stroke="#111" stroke-width="1.4"/>
<line x1="462.5" y1="289" x2="462.5" y2="296" stroke="#111" stroke-width="1.4"/>
<text x="361" y="289" font-size="11" textLength="4" lengthAdjust="spacingAndGlyphs">1</text>
<text x="376" y="289" font-size="11" textLength="12" lengthAdjust="spacingAndGlyphs">12</text>
<text x="388.3" y="285.3" font-size="6.5" textLength="4.2" lengthAdjust="spacingAndGlyphs">5</text>
<text x="424" y="289" font-size="11" textLength="14" lengthAdjust="spacingAndGlyphs">90</text>
<text x="417.5" y="304" font-size="11" textLength="27" lengthAdjust="spacingAndGlyphs">2.01</text>
<line x1="528" y1="294" x2="616" y2="294" stroke="#111" stroke-width="1.4"/>
<line x1="561" y1="290" x2="561" y2="297" stroke="#111" stroke-width="1.4"/>
<line x1="615" y1="290" x2="615" y2="297" stroke="#111" stroke-width="1.4"/>
<text x="534" y="290.5" font-size="11" textLength="13" lengthAdjust="spacingAndGlyphs">62</text>
<text x="547.5" y="285.5" font-size="6.5" textLength="4.2" lengthAdjust="spacingAndGlyphs">5</text>
<text x="580" y="290.5" font-size="11" textLength="14" lengthAdjust="spacingAndGlyphs">90</text>
<text x="572.5" y="305" font-size="11" textLength="27" lengthAdjust="spacingAndGlyphs">2.01</text>
<text x="377.8" y="380.6" font-size="13.3" textLength="56.4" lengthAdjust="spacingAndGlyphs">SCHLAFEN</text>
<text x="378.3" y="392.6" font-size="9.5" font-weight="bold" textLength="51.5" lengthAdjust="spacingAndGlyphs">WF  12.11  qm</text>
<circle cx="454.5" cy="383" r="17.1" fill="#fff" stroke="#000" stroke-width="1.7"/>
<text x="452.2" y="388.2" font-size="18" text-anchor="middle" textLength="19" lengthAdjust="spacingAndGlyphs">7.6</text>
<line x1="472" y1="341" x2="515" y2="341" stroke="#111" stroke-width="2.6" stroke-dasharray="32 3 3 3"/>
<path d="M479 355 L492.5 344.5 L505 355 Z" fill="#000" stroke="#111" stroke-width="1"/>
<path d="M499.0 373.4 A7.6 8.3 0 1 0 499.0 384.0" fill="none" stroke="#111" stroke-width="1.7"/>
<circle cx="582.3" cy="387.7" r="17" fill="#fff" stroke="#000" stroke-width="1.7"/>
<text x="579.3" y="392.9" font-size="18" text-anchor="middle" textLength="19" lengthAdjust="spacingAndGlyphs">7.5</text>
<text x="604" y="398.6" font-size="14.3" textLength="43.1" lengthAdjust="spacingAndGlyphs">WOHNEN</text>
<text x="605.1" y="410.9" font-size="9.6" font-weight="bold" textLength="52.4" lengthAdjust="spacingAndGlyphs">WF  17.05  qm</text>
<line x1="582.5" y1="467" x2="622.5" y2="425" stroke="#111" stroke-width="1.3"/>
<path d="M622.5 425 Q638 440 640 467" fill="none" stroke="#111" stroke-width="1.3"/>
<line x1="696" y1="467" x2="655" y2="427.5" stroke="#111" stroke-width="1.3"/>
<path d="M655 427.5 Q642 442 640 467" fill="none" stroke="#111" stroke-width="1.3"/>
<line x1="582" y1="456" x2="697" y2="456" stroke="#111" stroke-width="2"/>
<line x1="585" y1="466.2" x2="695" y2="466.2" stroke="#111" stroke-width="2"/>
<line x1="585" y1="470.6" x2="695" y2="470.6" stroke="#111" stroke-width="1.8"/>
<line x1="582" y1="476.8" x2="697" y2="476.8" stroke="#111" stroke-width="2"/>
<circle cx="582.5" cy="467" r="1.8" fill="#000"/><circle cx="696" cy="467" r="1.8" fill="#000"/>
<line x1="640" y1="456" x2="640" y2="470" stroke="#111" stroke-width="2"/>
<path d="M635 470 Q640 463 645 470" fill="none" stroke="#111" stroke-width="1.6"/>
<text x="355.5" y="155" font-size="8" text-anchor="middle" font-weight="bold" textLength="30" lengthAdjust="spacingAndGlyphs" transform="rotate(-90 355.5 152.5)">BH 87°</text>
<text x="353" y="351" font-size="8" text-anchor="middle" font-weight="bold" textLength="30" lengthAdjust="spacingAndGlyphs" transform="rotate(-90 353 348.5)">BH 87°</text>
<text x="768" y="352.5" font-size="8" text-anchor="middle" font-weight="bold" textLength="30" lengthAdjust="spacingAndGlyphs" transform="rotate(-90 768 350)">BH 87°</text>
<text x="783" y="165" font-size="8" text-anchor="middle" font-weight="bold" textLength="30" lengthAdjust="spacingAndGlyphs" transform="rotate(-90 783 162.5)">BH 87°</text>
<rect x="766" y="177.3" width="20" height="2.5" fill="#000"/>
<line x1="766" y1="181.5" x2="790" y2="181.5" stroke="#111" stroke-width="1.5"/>
<line x1="801" y1="182" x2="870" y2="182" stroke="#111" stroke-width="2.6" stroke-dasharray="36 4 3 4"/>
<path d="M835 196 L849 183.5 L862 196 Z" fill="#000" stroke="#111" stroke-width="1"/>
<path d="M855.4 213.5 A7.6 8.3 0 1 0 855.4 224.1" fill="none" stroke="#111" stroke-width="1.7"/>
<rect x="596" y="478.5" width="67" height="45.5" fill="#fff"/>
<line x1="595" y1="500.6" x2="607" y2="500.8" stroke="#111" stroke-width="1.4"/>
<text x="598.75" y="498" font-size="15" textLength="56" lengthAdjust="spacingAndGlyphs">TERRASSE</text>
<text x="598.3" y="511.7" font-size="9.5" font-weight="bold" textLength="48.5" lengthAdjust="spacingAndGlyphs">GF  8.00  qm</text>
<text x="598.3" y="523" font-size="9.5" font-weight="bold" textLength="48.5" lengthAdjust="spacingAndGlyphs">WF  2.97  qm</text>
<circle cx="572.7" cy="507.3" r="16.8" fill="#fff" stroke="#000" stroke-width="1.7"/>
<text x="570.6" y="512.5" font-size="18" text-anchor="middle" textLength="18.3" lengthAdjust="spacingAndGlyphs">7.8</text>
<path d="M502 588.3 L733 591.5 L797 591.2" fill="none" stroke="#111" stroke-width="1.5"/>
<path d="M501 588.3 L506 586 L505 590.5 Z" fill="#000" stroke="#111" stroke-width="1"/>
<line x1="505" y1="585.5" x2="505" y2="591.5" stroke="#111" stroke-width="1.4"/>
<line x1="733" y1="588" x2="733" y2="595" stroke="#111" stroke-width="1.5"/>
<line x1="729" y1="591.5" x2="737" y2="591.5" stroke="#111" stroke-width="1.8"/>
<path d="M798 591.2 L793 589 L793 593.5 Z" fill="#000" stroke="#111" stroke-width="1"/>
<line x1="794" y1="588" x2="794" y2="594.5" stroke="#111" stroke-width="1.4"/>
<text x="604.7" y="588" font-size="12.5" textLength="28" lengthAdjust="spacingAndGlyphs">4.00</text>
<text x="751.4" y="588.8" font-size="12.5" textLength="27" lengthAdjust="spacingAndGlyphs">1.10</text>
<line x1="764.5" y1="480" x2="764.5" y2="568.5" stroke="#111" stroke-width="1.4"/>
<line x1="761" y1="563" x2="768" y2="568" stroke="#111" stroke-width="1.2"/>
<line x1="760.5" y1="565.3" x2="768.5" y2="565.3" stroke="#111" stroke-width="1.2"/>
<text x="0" y="0" font-size="11" textLength="27" lengthAdjust="spacingAndGlyphs" transform="translate(761 536) rotate(-90)">1.50</text>
<circle cx="875" cy="266" r="0.9" fill="#444"/>
</svg></body></html>
